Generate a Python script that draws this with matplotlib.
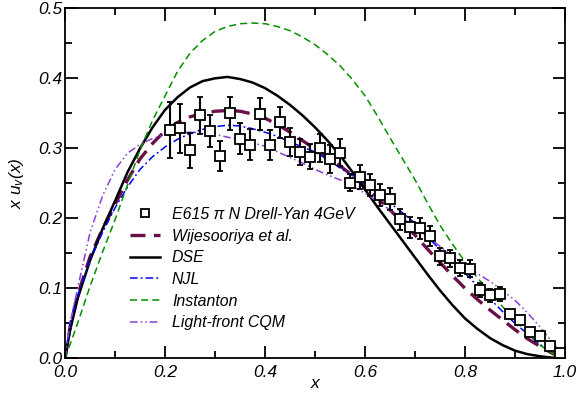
import numpy as np
import matplotlib
matplotlib.use("Agg")
import matplotlib.pyplot as plt
from matplotlib.ticker import MultipleLocator

plt.rcParams["font.family"] = ["Liberation Sans", "DejaVu Sans"]
plt.rcParams["font.style"] = "italic"
plt.rcParams["mathtext.fontset"] = "custom"
plt.rcParams["mathtext.it"] = "Liberation Sans:italic"
plt.rcParams["mathtext.rm"] = "Liberation Sans:italic"

# E615 pi N Drell-Yan data
e615_x = [0.21, 0.23, 0.25, 0.27, 0.29, 0.31, 0.33, 0.35, 0.37, 0.39,
          0.41, 0.43, 0.45, 0.47, 0.49, 0.51, 0.53, 0.55, 0.57, 0.59,
          0.61, 0.63, 0.65, 0.67, 0.69, 0.71, 0.73, 0.75, 0.77, 0.79,
          0.81, 0.83, 0.85, 0.87, 0.89, 0.91, 0.93, 0.95, 0.97, 0.99]
e615_y = [0.326, 0.329, 0.297, 0.347, 0.325, 0.289, 0.350, 0.314, 0.305, 0.349,
          0.305, 0.337, 0.309, 0.295, 0.288, 0.300, 0.285, 0.294, 0.251, 0.259,
          0.248, 0.233, 0.228, 0.199, 0.187, 0.186, 0.175, 0.146, 0.143, 0.129,
          0.128, 0.098, 0.090, 0.092, 0.063, 0.055, 0.037, 0.032, 0.017, 0.008]
e615_err = [0.040, 0.035, 0.025, 0.026, 0.023, 0.022, 0.024, 0.022, 0.022, 0.023,
            0.021, 0.022, 0.020, 0.019, 0.018, 0.020, 0.020, 0.019, 0.012, 0.017,
            0.016, 0.016, 0.016, 0.015, 0.015, 0.015, 0.014, 0.012, 0.012, 0.012,
            0.012, 0.010, 0.009, 0.010, 0.006, 0.005, 0.003, 0.003, 0.002, 0.002]

# model curves sampled at these x values
xs = [0.0, 0.01, 0.025, 0.05, 0.075, 0.1, 0.125, 0.15, 0.175, 0.2, 0.225, 0.25,
      0.275, 0.3, 0.325, 0.35, 0.375, 0.4, 0.425, 0.45, 0.475, 0.5, 0.525, 0.55,
      0.575, 0.6, 0.625, 0.65, 0.675, 0.7, 0.725, 0.75, 0.775, 0.8, 0.825, 0.85,
      0.875, 0.9, 0.925, 0.95, 0.975, 1.0]
dse = [0.0, 0.040, 0.085, 0.140, 0.185, 0.225, 0.266, 0.300, 0.330, 0.355, 0.373, 0.387,
       0.396, 0.400, 0.402, 0.399, 0.394, 0.386, 0.375, 0.362, 0.347, 0.330, 0.311, 0.290,
       0.266, 0.241, 0.216, 0.192, 0.168, 0.144, 0.120, 0.097, 0.076, 0.057, 0.042, 0.029,
       0.019, 0.011, 0.006, 0.003, 0.001, 0.0]
wijesooriya = [0.0, 0.045, 0.090, 0.145, 0.185, 0.220, 0.255, 0.285, 0.307, 0.325, 0.337, 0.345,
               0.350, 0.353, 0.354, 0.353, 0.349, 0.343, 0.334, 0.323, 0.311, 0.299, 0.287, 0.275,
               0.261, 0.246, 0.229, 0.212, 0.194, 0.176, 0.156, 0.137, 0.118, 0.100, 0.084, 0.069,
               0.055, 0.041, 0.028, 0.017, 0.007, 0.0]
njl = [0.0, 0.050, 0.090, 0.140, 0.180, 0.215, 0.245, 0.270, 0.288, 0.302, 0.313, 0.321,
       0.327, 0.331, 0.333, 0.332, 0.328, 0.323, 0.317, 0.309, 0.302, 0.295, 0.284, 0.272,
       0.261, 0.250, 0.236, 0.222, 0.208, 0.193, 0.174, 0.155, 0.138, 0.122, 0.103, 0.085,
       0.067, 0.050, 0.035, 0.020, 0.008, 0.0]
instanton = [0.0, 0.020, 0.050, 0.103, 0.152, 0.198, 0.248, 0.298, 0.340, 0.375, 0.410, 0.436,
             0.454, 0.467, 0.474, 0.478, 0.479, 0.478, 0.474, 0.468, 0.459, 0.448, 0.434, 0.418,
             0.398, 0.375, 0.346, 0.315, 0.285, 0.255, 0.222, 0.190, 0.163, 0.138, 0.115, 0.094,
             0.074, 0.054, 0.036, 0.019, 0.007, 0.0]
lfcqm = [0.0, 0.050, 0.100, 0.180, 0.232, 0.270, 0.293, 0.306, 0.314, 0.320, 0.322, 0.323,
         0.322, 0.320, 0.316, 0.312, 0.308, 0.303, 0.295, 0.287, 0.279, 0.270, 0.262, 0.255,
         0.246, 0.236, 0.224, 0.212, 0.200, 0.188, 0.174, 0.160, 0.146, 0.133, 0.121, 0.110,
         0.097, 0.083, 0.065, 0.045, 0.023, 0.0]

fig = plt.figure(figsize=(5.81, 3.96), dpi=100)
ax = fig.add_axes([0.112, 0.095, 0.8605, 0.884])

eb = ax.errorbar(e615_x, e615_y, yerr=e615_err, fmt="s", mfc="white", mec="black",
                 ms=6.5, mew=1.3, ecolor="black", elinewidth=1.5, capsize=2.5,
                 capthick=1.5, zorder=5)
l1, = ax.plot(xs, wijesooriya, color="#6a0f47", lw=2.4, dashes=(4.5, 2.5))
l2, = ax.plot(xs, dse, color="black", lw=1.8)
l3, = ax.plot(xs, njl, color="#0000ff", lw=1.1, dashes=(5, 2, 1.2, 2))
l4, = ax.plot(xs, instanton, color="#009000", lw=1.1, dashes=(4.6, 2.7))
l5, = ax.plot(xs, lfcqm, color="#8a3fd8", lw=1.1, dashes=(5, 2, 1, 2, 1, 2))

ax.set_xlim(0, 1.0)
ax.set_ylim(0, 0.5)
ax.xaxis.set_major_locator(MultipleLocator(0.2))
ax.xaxis.set_minor_locator(MultipleLocator(0.1))
ax.yaxis.set_major_locator(MultipleLocator(0.1))
ax.yaxis.set_minor_locator(MultipleLocator(0.05))
ax.tick_params(which="both", direction="in", top=True, right=True, width=1.3)
ax.tick_params(which="major", length=9, labelsize=12.5)
ax.tick_params(axis="x", which="major", pad=5)
ax.tick_params(axis="y", which="major", pad=2)
ax.tick_params(which="minor", length=5)
for s in ax.spines.values():
    s.set_linewidth(1.3)

ax.set_xlabel("x", fontsize=12.5, labelpad=-3)
ax.set_ylabel(r"$x\ u_v(x)$", fontsize=12.5, labelpad=9)

ax.legend([eb[0], l1, l2, l3, l4, l5],
          ["E615 π N Drell-Yan 4GeV", "Wijesooriya et al.", "DSE", "NJL",
           "Instanton", "Light-front CQM"],
          loc="upper left", bbox_to_anchor=(0.114, 0.455), frameon=False,
          fontsize=11.4, handlelength=1.9, handletextpad=0.75, labelspacing=0.42,
          borderpad=0, markerscale=0.8)

plt.savefig("out.png", dpi=100)
